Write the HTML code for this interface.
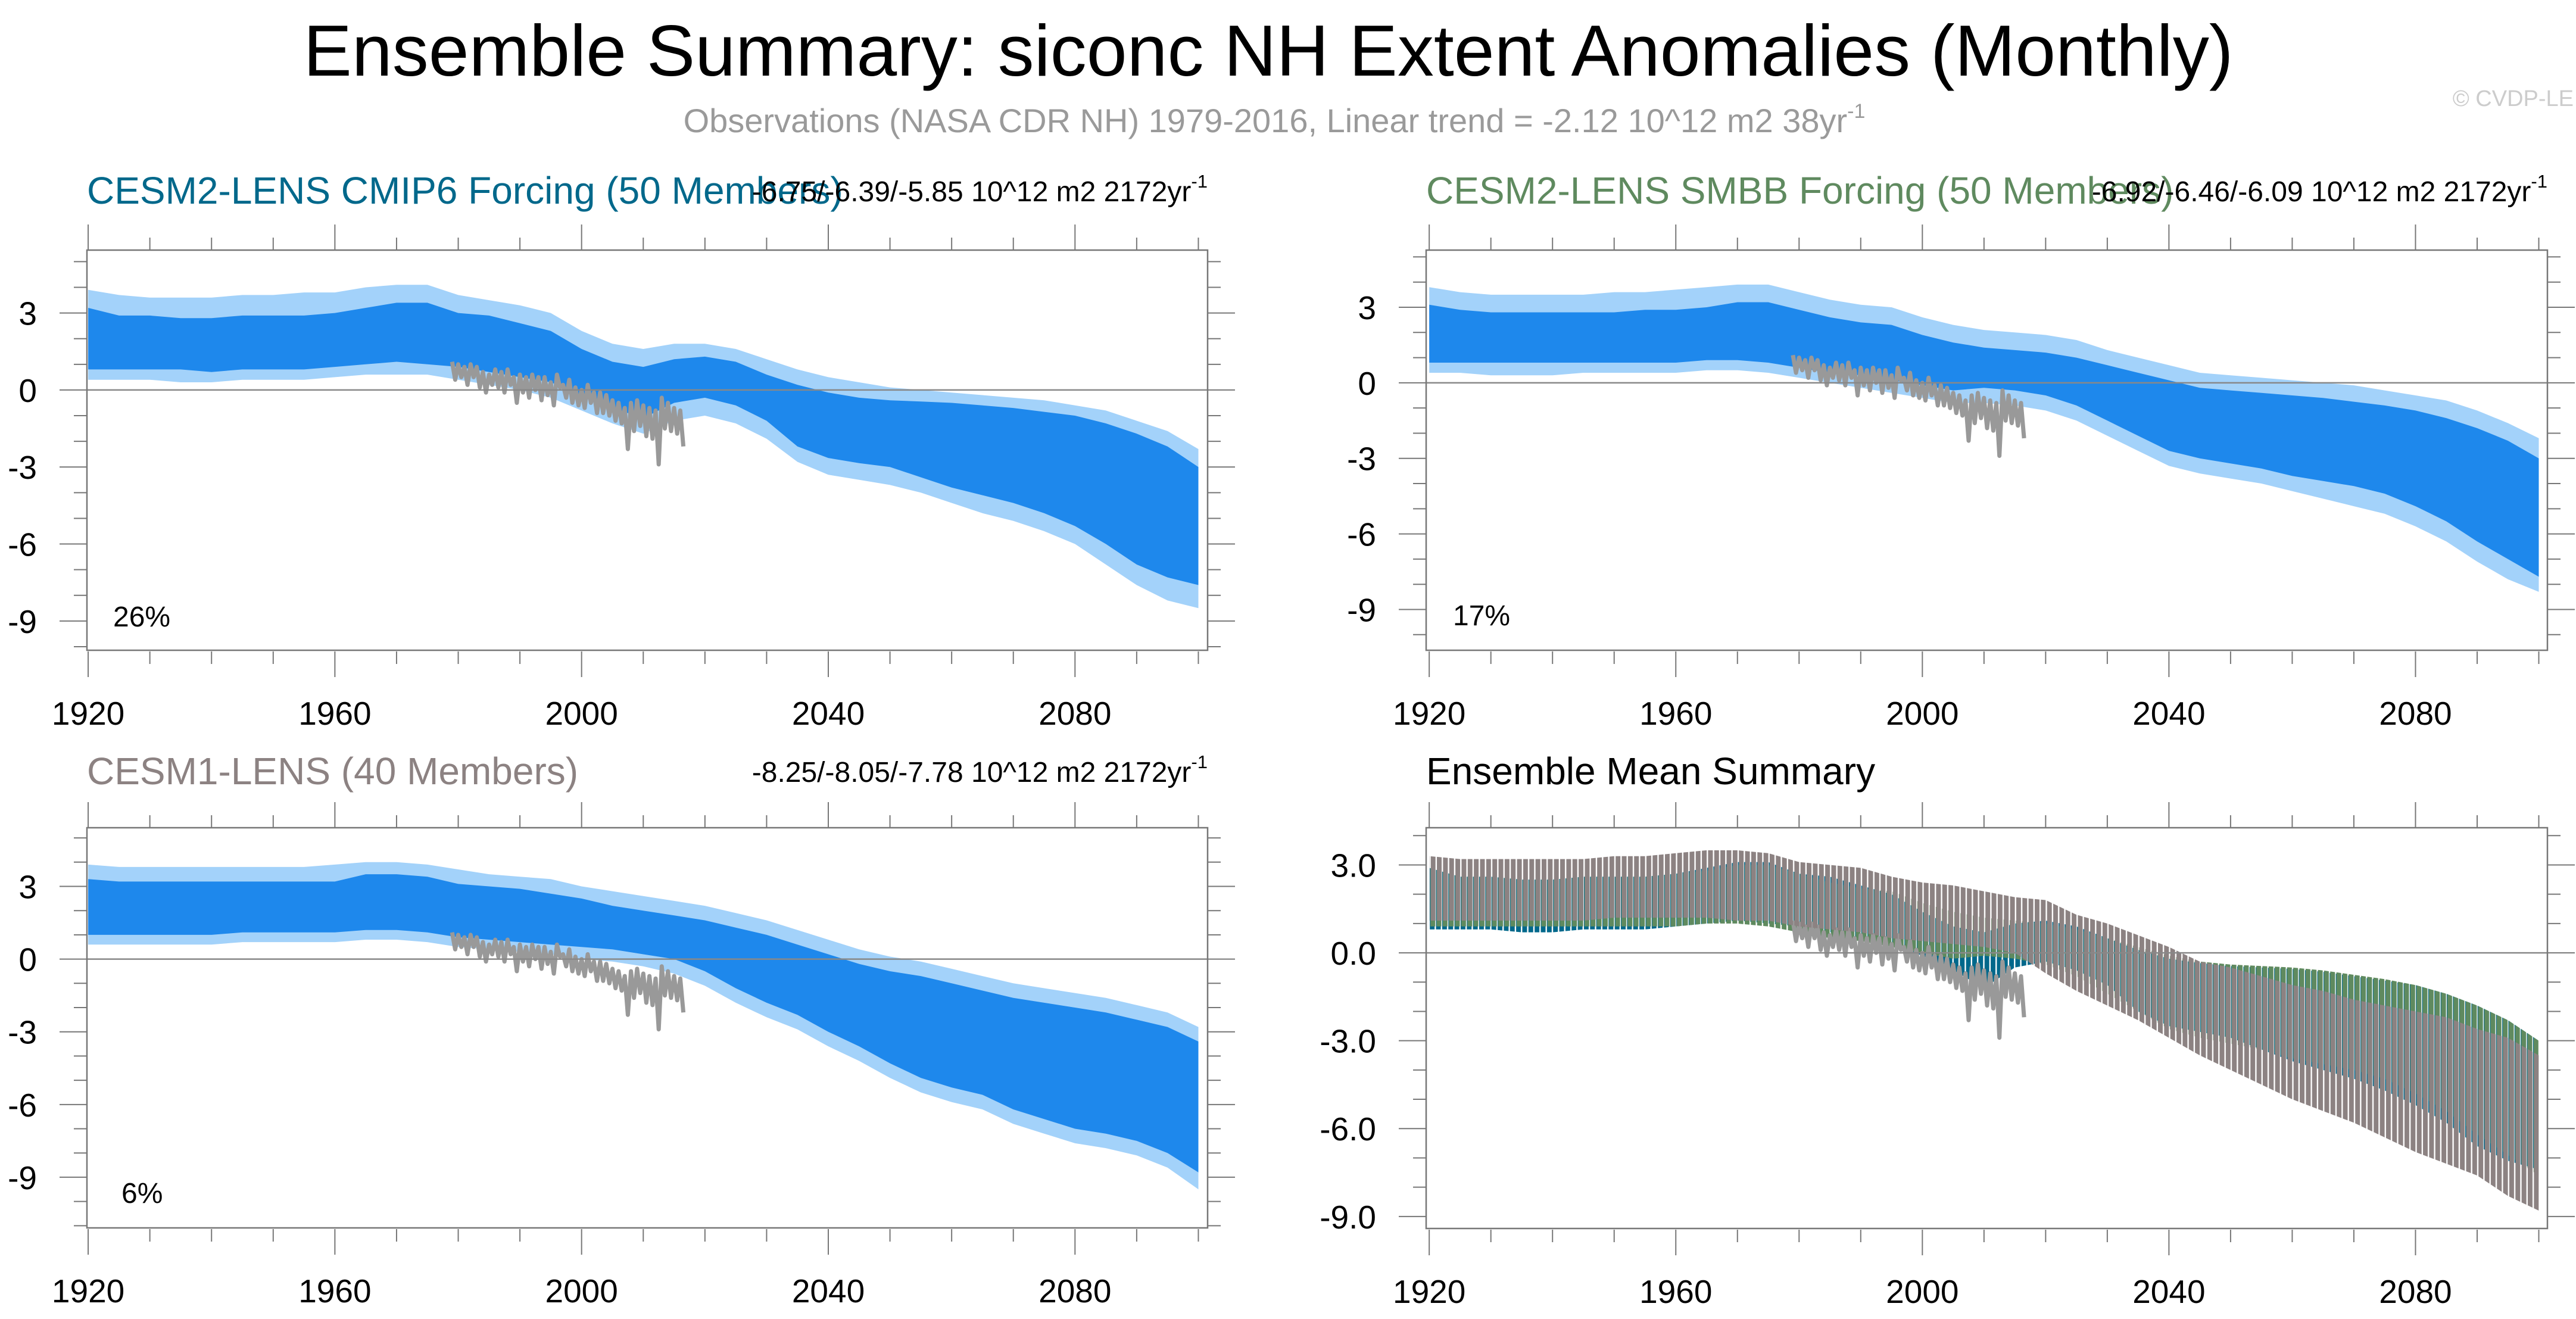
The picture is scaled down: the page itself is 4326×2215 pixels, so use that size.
<!DOCTYPE html>
<html><head><meta charset="utf-8">
<style>
html,body{margin:0;padding:0;background:#fff;}
svg{display:block;font-family:"Liberation Sans",sans-serif;}
</style></head>
<body>
<svg id="fig" width="4326" height="2215" viewBox="0 0 4326 2215" xmlns="http://www.w3.org/2000/svg">
<rect x="0" y="0" width="4326" height="2215" fill="#fff"/>
<defs>
<pattern id="stripeBlue" patternUnits="userSpaceOnUse" width="10.35" height="20"><rect x="0" y="0" width="8" height="20" fill="#00688B"/></pattern>
<pattern id="stripeGreen" patternUnits="userSpaceOnUse" width="10.35" height="20"><rect x="1" y="0" width="8" height="20" fill="#5F8A5F"/></pattern>
<pattern id="stripeGray" patternUnits="userSpaceOnUse" width="10.35" height="20"><rect x="1.5" y="0" width="8" height="20" fill="#8C8282"/></pattern>
</defs>
<text x="2130" y="127" font-size="122" text-anchor="middle" fill="#000">Ensemble Summary: siconc NH Extent Anomalies (Monthly)</text>
<text x="2140" y="222" font-size="56" text-anchor="middle" fill="#9a9a9a">Observations (NASA CDR NH) 1979-2016, Linear trend = -2.12 10^12 m2 38yr<tspan font-size="34" dy="-24">-1</tspan></text>
<text x="4322" y="178" font-size="38" text-anchor="end" fill="#cccccc">© CVDP-LE</text>
<g id="panels"></g>
</svg>
<script>
// ---- data (anomalies, 10^12 m2), sampled every 5 years 1920..2100 ----
const years = [1920,1925,1930,1935,1940,1945,1950,1955,1960,1965,1970,1975,1980,1985,1990,1995,2000,2005,2010,2015,2020,2025,2030,2035,2040,2045,2050,2055,2060,2065,2070,2075,2080,2085,2090,2095,2100];

const cmip6High = [3.2,2.9,2.9,2.8,2.8,2.9,2.9,2.9,3.0,3.2,3.4,3.4,3.0,2.9,2.6,2.3,1.6,1.1,0.9,1.2,1.3,1.1,0.6,0.2,-0.1,-0.3,-0.4,-0.45,-0.5,-0.6,-0.7,-0.85,-1.0,-1.3,-1.7,-2.2,-3.0];
const cmip6Low  = [0.8,0.8,0.8,0.8,0.7,0.8,0.8,0.8,0.9,1.0,1.1,1.0,0.9,0.7,0.5,0.3,-0.2,-0.7,-1.1,-0.5,-0.3,-0.6,-1.2,-2.2,-2.65,-2.85,-3.0,-3.4,-3.8,-4.1,-4.4,-4.8,-5.3,-6.0,-6.8,-7.3,-7.6];
const cmip6WhiskHigh = [3.9,3.7,3.6,3.6,3.6,3.7,3.7,3.8,3.8,4.0,4.1,4.1,3.7,3.5,3.3,3.0,2.3,1.8,1.6,1.8,1.8,1.6,1.2,0.8,0.5,0.3,0.1,0.0,-0.1,-0.2,-0.3,-0.4,-0.6,-0.8,-1.2,-1.6,-2.3];
const cmip6WhiskLow  = [0.4,0.4,0.4,0.3,0.3,0.4,0.4,0.4,0.5,0.6,0.6,0.6,0.4,0.2,0.0,-0.3,-0.8,-1.3,-1.7,-1.2,-1.0,-1.3,-1.9,-2.8,-3.3,-3.5,-3.7,-4.0,-4.4,-4.8,-5.1,-5.5,-6.0,-6.8,-7.6,-8.2,-8.5];

const smbbHigh = [3.1,2.9,2.8,2.8,2.8,2.8,2.8,2.9,2.9,3.0,3.2,3.2,2.9,2.6,2.4,2.3,1.9,1.6,1.4,1.3,1.2,1.0,0.7,0.4,0.1,-0.2,-0.3,-0.4,-0.5,-0.6,-0.75,-0.9,-1.1,-1.4,-1.8,-2.3,-3.0];
const smbbLow  = [0.8,0.8,0.8,0.8,0.8,0.8,0.8,0.8,0.8,0.9,0.9,0.8,0.6,0.4,0.3,0.1,-0.1,-0.3,-0.2,-0.3,-0.5,-0.9,-1.5,-2.1,-2.7,-3.0,-3.2,-3.4,-3.7,-3.9,-4.1,-4.4,-4.9,-5.5,-6.3,-7.0,-7.7];
const smbbWhiskHigh = [3.8,3.6,3.5,3.5,3.5,3.5,3.6,3.6,3.7,3.8,3.9,3.9,3.6,3.3,3.1,3.0,2.6,2.3,2.1,2.0,1.9,1.7,1.3,1.0,0.7,0.4,0.3,0.2,0.1,0.0,-0.1,-0.3,-0.5,-0.7,-1.1,-1.6,-2.2];
const smbbWhiskLow  = [0.4,0.4,0.3,0.3,0.3,0.4,0.4,0.4,0.4,0.5,0.5,0.4,0.2,0.0,-0.2,-0.4,-0.6,-0.8,-0.8,-0.9,-1.1,-1.5,-2.1,-2.7,-3.3,-3.6,-3.8,-4.0,-4.3,-4.6,-4.9,-5.2,-5.7,-6.3,-7.1,-7.8,-8.3];

const lensHigh = [3.3,3.2,3.2,3.2,3.2,3.2,3.2,3.2,3.2,3.5,3.5,3.4,3.1,3.0,2.9,2.7,2.5,2.2,2.0,1.8,1.6,1.3,1.0,0.6,0.2,-0.2,-0.5,-0.7,-1.0,-1.3,-1.6,-1.8,-2.0,-2.2,-2.5,-2.8,-3.4];
const lensLow  = [1.0,1.0,1.0,1.0,1.0,1.1,1.1,1.1,1.1,1.2,1.2,1.1,0.9,0.8,0.7,0.6,0.5,0.4,0.2,0.0,-0.5,-1.2,-1.8,-2.3,-3.0,-3.6,-4.3,-4.9,-5.3,-5.6,-6.2,-6.6,-7.0,-7.2,-7.5,-8.0,-8.8];
const lensWhiskHigh = [3.9,3.8,3.8,3.8,3.8,3.8,3.8,3.8,3.9,4.0,4.0,3.9,3.7,3.5,3.4,3.3,3.0,2.8,2.6,2.4,2.2,1.9,1.6,1.2,0.8,0.4,0.1,-0.1,-0.4,-0.7,-1.0,-1.2,-1.4,-1.6,-1.9,-2.2,-2.8];
const lensWhiskLow  = [0.6,0.6,0.6,0.6,0.6,0.7,0.7,0.7,0.7,0.8,0.8,0.7,0.5,0.4,0.3,0.2,0.0,-0.1,-0.3,-0.6,-1.1,-1.8,-2.4,-2.9,-3.6,-4.2,-4.9,-5.5,-5.9,-6.2,-6.8,-7.2,-7.6,-7.8,-8.1,-8.6,-9.5];

// ensemble means (summary panel)
const meanBlueHigh = [2.9,2.6,2.6,2.5,2.5,2.6,2.6,2.6,2.7,2.9,3.1,3.1,2.7,2.6,2.3,2.0,1.4,0.9,0.7,1.0,1.1,0.9,0.5,0.1,-0.2,-0.35,-0.45,-0.5,-0.55,-0.65,-0.8,-0.95,-1.1,-1.4,-1.8,-2.3,-3.0];
const meanBlueLow  = [0.8,0.8,0.8,0.7,0.7,0.8,0.8,0.8,0.9,1.0,1.1,1.0,0.9,0.7,0.5,0.3,-0.1,-0.6,-1.2,-0.5,-0.3,-0.6,-1.1,-2.0,-2.5,-2.7,-2.9,-3.3,-3.7,-4.0,-4.3,-4.7,-5.2,-5.8,-6.6,-7.1,-7.4];
const meanGreenHigh = [2.9,2.6,2.6,2.5,2.5,2.6,2.6,2.6,2.7,2.8,3.0,3.0,2.7,2.4,2.2,2.1,1.7,1.4,1.2,1.1,1.0,0.8,0.5,0.2,-0.1,-0.3,-0.4,-0.45,-0.5,-0.6,-0.75,-0.9,-1.1,-1.4,-1.8,-2.3,-3.0];
const meanGreenLow  = [0.9,0.9,0.9,0.9,0.9,0.9,0.9,0.9,0.9,1.0,1.0,0.9,0.7,0.5,0.4,0.2,0.0,-0.2,-0.1,-0.2,-0.4,-0.8,-1.4,-2.0,-2.6,-2.9,-3.1,-3.3,-3.6,-3.8,-4.0,-4.3,-4.8,-5.4,-6.2,-6.9,-7.6];
const meanGrayHigh = [3.3,3.2,3.2,3.2,3.2,3.2,3.3,3.3,3.4,3.5,3.5,3.4,3.1,3.0,2.9,2.6,2.4,2.3,2.1,1.9,1.8,1.3,1.0,0.6,0.2,-0.3,-0.5,-0.8,-1.1,-1.3,-1.6,-1.8,-2.0,-2.2,-2.6,-2.9,-3.5];
const meanGrayLow  = [1.1,1.1,1.1,1.1,1.1,1.1,1.2,1.2,1.2,1.2,1.1,1.1,0.9,0.8,0.7,0.5,0.4,0.3,0.2,0.0,-0.7,-1.3,-1.8,-2.3,-2.9,-3.5,-4.0,-4.5,-5.0,-5.4,-5.8,-6.3,-6.8,-7.2,-7.6,-8.3,-8.8];

// observations (NASA CDR NH), annual high/low of monthly anomalies 1979..2016
const obsYears = [1979,1980,1981,1982,1983,1984,1985,1986,1987,1988,1989,1990,1991,1992,1993,1994,1995,1996,1997,1998,1999,2000,2001,2002,2003,2004,2005,2006,2007,2008,2009,2010,2011,2012,2013,2014,2015,2016];
const obsHigh = [1.1,1.0,0.9,1.0,0.9,0.7,0.6,0.8,0.7,0.8,0.5,0.6,0.5,0.6,0.5,0.5,0.3,0.6,0.2,0.4,0.1,0.0,0.2,-0.1,-0.1,-0.2,-0.4,-0.5,-0.7,-0.5,-0.4,-0.6,-0.7,-0.8,-0.3,-0.5,-0.7,-0.8];
const obsLow  = [0.4,0.5,0.2,0.5,0.1,-0.1,0.2,0.1,-0.1,0.2,-0.5,-0.1,-0.3,0.0,-0.4,-0.2,-0.6,0.1,-0.3,-0.5,-0.6,-0.7,-0.5,-0.9,-0.9,-1.0,-1.2,-1.3,-2.3,-1.6,-1.4,-1.8,-1.9,-2.9,-1.5,-1.6,-1.7,-2.2];

const xTickLabels = [1920,1960,2000,2040,2080];
const yTickLabels = [3,0,-3,-6,-9];

const NS = "http://www.w3.org/2000/svg";
const root = document.getElementById('panels');
function el(tag, attrs, parent){
  const e = document.createElementNS(NS, tag);
  for (const k in attrs) e.setAttribute(k, attrs[k]);
  (parent||root).appendChild(e);
  return e;
}

function panel(cfg){
  const g = el('g', {});
  
  
  const X = v => cfg.x0 + (v - cfg.xmin) / (cfg.xmax - cfg.xmin) * (cfg.x1 - cfg.x0);
  const Y = v => cfg.y0 + (cfg.ymax - v) / (cfg.ymax - cfg.ymin) * (cfg.y1 - cfg.y0);

  const t = el('text', {x: cfg.x0, y: cfg.titleY, 'font-size': 64, fill: cfg.titleColor}, g);
  t.textContent = cfg.title;
  
  
  if (cfg.trend){
    const tr = el('text', {x: cfg.x1, y: cfg.titleY - 4, 'font-size': 48, fill: '#000', 'text-anchor': 'end'}, g);
    tr.innerHTML = cfg.trend + '<tspan font-size="31" dy="-23">-1</tspan>';
    
    
  }

  function band(hi, lo, fill, name){
    let d = '';
    years.forEach((yr,i)=>{ d += (i? 'L':'M') + X(yr).toFixed(1) + ' ' + Y(hi[i]).toFixed(1) + ' '; });
    for (let i = years.length-1; i >= 0; i--) d += 'L' + X(years[i]).toFixed(1) + ' ' + Y(lo[i]).toFixed(1) + ' ';
    const p = el('path', {d: d + 'Z', fill: fill}, g);
    
    
  }
  cfg.bands.forEach(b => band(b.hi, b.lo, b.fill, b.name));

  let od = '';
  obsYears.forEach((yr,i)=>{
    od += (i? 'L':'M') + X(yr).toFixed(1) + ' ' + Y(obsHigh[i]).toFixed(1) + ' ';
    od += 'L' + X(yr+0.5).toFixed(1) + ' ' + Y(obsLow[i]).toFixed(1) + ' ';
  });
  const ol = el('path', {d: od, fill: 'none', stroke: '#999999', 'stroke-width': 7, 'stroke-linejoin': 'round'}, g);
  
  
  if (cfg.overBands) cfg.overBands.forEach(b => band(b.hi, b.lo, b.fill, b.name));

  const z = el('line', {x1: cfg.x0, x2: cfg.x1, y1: Y(0), y2: Y(0), stroke: '#888', 'stroke-width': 2.5}, g);
  
  

  const bx = el('rect', {x: cfg.x0, y: cfg.y0, width: cfg.x1-cfg.x0, height: cfg.y1-cfg.y0, fill: 'none', stroke: '#777', 'stroke-width': 2.5}, g);
  
  

  for (let yr = 1920; yr <= 2100; yr += 10){
    const major = (yr - 1920) % 40 === 0;
    const L = major ? 43 : 21;
    const xx = X(yr);
    el('line', {x1: xx, x2: xx, y1: cfg.y0 - L, y2: cfg.y0, stroke: '#777', 'stroke-width': 2}, g);
    el('line', {x1: xx, x2: xx, y1: cfg.y1 + 2, y2: cfg.y1 + 2 + L, stroke: '#777', 'stroke-width': 2}, g);
  }
  xTickLabels.forEach(v=>{
    const tx = el('text', {x: X(v), y: cfg.y1 + 125, 'font-size': 55, 'text-anchor': 'middle', fill: '#000'}, g);
    tx.textContent = v;
    
    
  });
  for (let v = Math.ceil(cfg.ymin); v <= Math.floor(cfg.ymax); v++){
    const major = v % 3 === 0;
    const L = major ? 46 : 22;
    const yy = Y(v);
    el('line', {x1: cfg.x0 - L, x2: cfg.x0, y1: yy, y2: yy, stroke: '#777', 'stroke-width': 2}, g);
    el('line', {x1: cfg.x1, x2: cfg.x1 + L, y1: yy, y2: yy, stroke: '#777', 'stroke-width': 2}, g);
  }
  yTickLabels.forEach(v=>{
    const ty = el('text', {x: cfg.x0 - 84, y: Y(v) + 20, 'font-size': 55, 'text-anchor': 'end', fill: '#000'}, g);
    ty.textContent = cfg.decimals ? v.toFixed(1) : String(v);
    
    
  });
  if (cfg.pct){
    const pt = el('text', {x: cfg.pctX, y: cfg.pctY, 'font-size': 48, fill: '#000'}, g);
    pt.textContent = cfg.pct;
    
    
  }
}

const LIGHT = '#a3d2fa', DARK = '#1e88ec';
panel({name:'panel-cesm2-cmip6', x0:146, x1:2028, y0:420, y1:1092, xmin:1919.8, xmax:2101.5, ymax:5.45, ymin:-10.14,
  title:'CESM2-LENS CMIP6 Forcing (50 Members)', titleColor:'#00688B', titleY:342,
  trend:'-6.75/-6.39/-5.85 10^12 m2 2172yr', pct:'26%', pctX:190, pctY:1052,
  bands:[{hi:cmip6WhiskHigh, lo:cmip6WhiskLow, fill:LIGHT, name:'member-spread'},{hi:cmip6High, lo:cmip6Low, fill:DARK, name:'ensemble-range'}]});
panel({name:'panel-cesm2-smbb', x0:2395, x1:4278, y0:420, y1:1092, xmin:1919.5, xmax:2101.4, ymax:5.27, ymin:-10.62,
  title:'CESM2-LENS SMBB Forcing (50 Members)', titleColor:'#5F8A5F', titleY:342,
  trend:'-6.92/-6.46/-6.09 10^12 m2 2172yr', pct:'17%', pctX:2440, pctY:1050,
  bands:[{hi:smbbWhiskHigh, lo:smbbWhiskLow, fill:LIGHT, name:'member-spread'},{hi:smbbHigh, lo:smbbLow, fill:DARK, name:'ensemble-range'}]});
panel({name:'panel-cesm1-lens', x0:146, x1:2028, y0:1390, y1:2062, xmin:1919.8, xmax:2101.5, ymax:5.42, ymin:-11.09,
  title:'CESM1-LENS (40 Members)', titleColor:'#8C8282', titleY:1317,
  trend:'-8.25/-8.05/-7.78 10^12 m2 2172yr', pct:'6%', pctX:204, pctY:2020,
  bands:[{hi:lensWhiskHigh, lo:lensWhiskLow, fill:LIGHT, name:'member-spread'},{hi:lensHigh, lo:lensLow, fill:DARK, name:'ensemble-range'}]});
panel({name:'panel-ensemble-mean-summary', x0:2395, x1:4278, y0:1390, y1:2063, xmin:1919.5, xmax:2101.4, ymax:4.27, ymin:-9.41,
  title:'Ensemble Mean Summary', titleColor:'#000', titleY:1317, decimals:true,
  bands:[{hi:meanBlueHigh, lo:meanBlueLow, fill:'url(#stripeBlue)', name:'cmip6-mean'},{hi:meanGreenHigh, lo:meanGreenLow, fill:'url(#stripeGreen)', name:'smbb-mean'}],
  overBands:[{hi:meanGrayHigh, lo:meanGrayLow, fill:'url(#stripeGray)', name:'cesm1-mean'}]});
</script>
</body></html>
